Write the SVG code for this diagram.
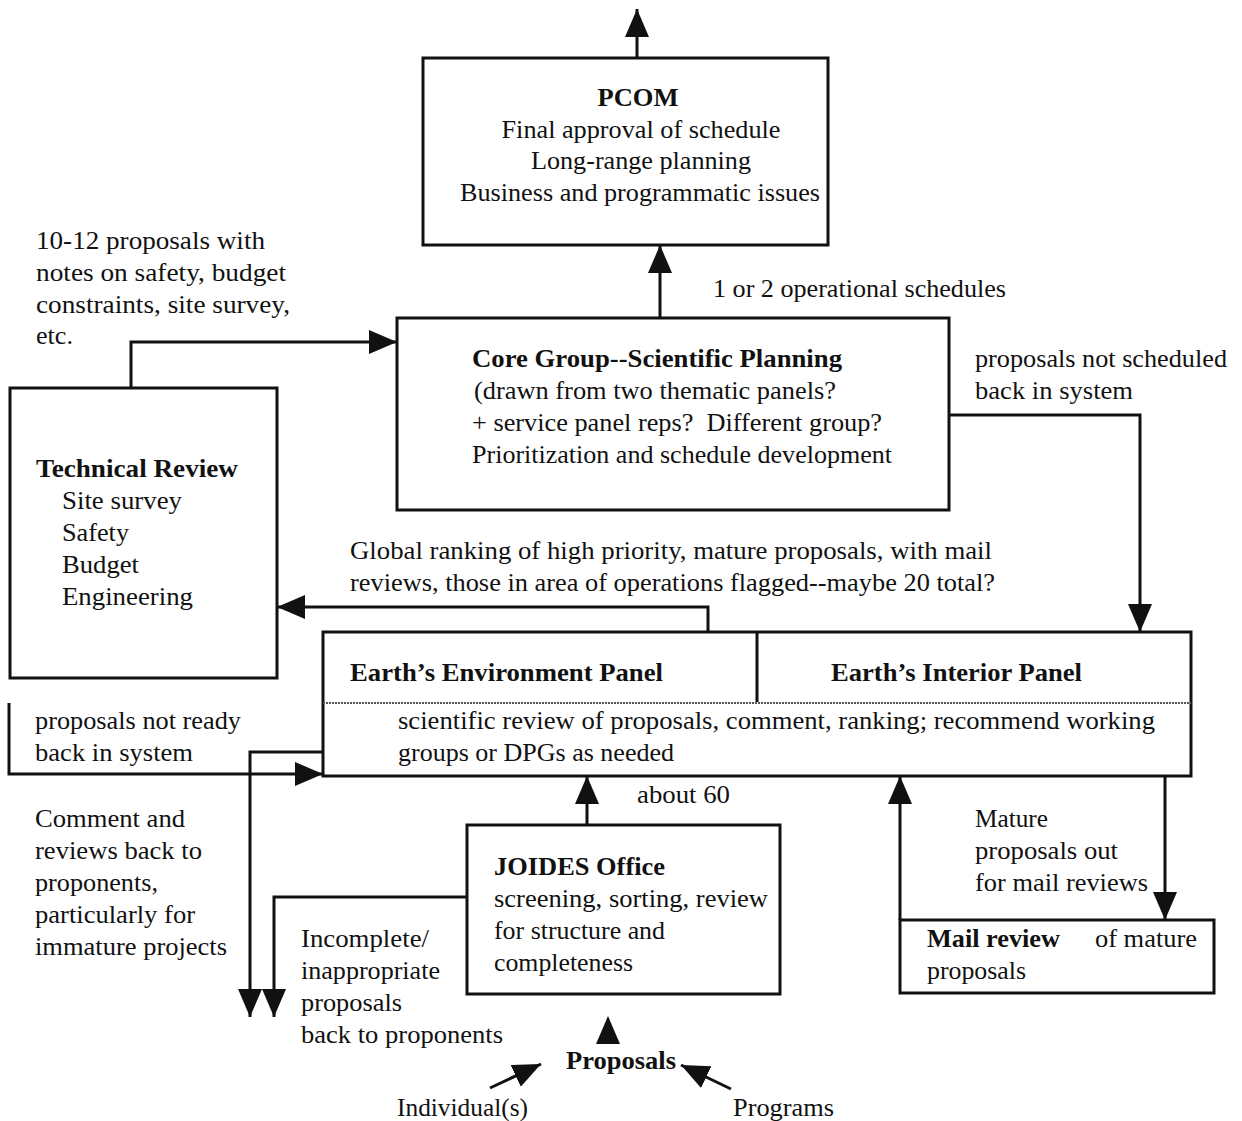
<svg xmlns="http://www.w3.org/2000/svg" width="1242" height="1121" viewBox="0 0 1242 1121">
<style>
text{font-family:"Liberation Serif","Times New Roman",serif;font-size:25px;fill:#111}
.b{font-weight:bold}
.box{fill:none;stroke:#111;stroke-width:3}
.c{fill:none;stroke:#111;stroke-width:3}
</style>
<defs>
<marker id="ah" markerUnits="userSpaceOnUse" markerWidth="28" markerHeight="24" refX="28" refY="12" orient="auto" viewBox="0 0 28 24">
<path d="M0,0 L28,12 L0,24 z" fill="#111"/>
</marker>
</defs>
<rect width="1242" height="1121" fill="#fff"/>

<g id="connectors">
<line class="c" x1="637" y1="58" x2="637" y2="9" marker-end="url(#ah)"/>
<line class="c" x1="660" y1="318" x2="660" y2="245" marker-end="url(#ah)"/>
<polyline class="c" points="131,388 131,342 397,342" marker-end="url(#ah)"/>
<polyline class="c" points="949,415 1140,415 1140,632" marker-end="url(#ah)"/>
<polyline class="c" points="708,632 708,607 277,607" marker-end="url(#ah)"/>
<polyline class="c" points="9,703 9,774 323,774" marker-end="url(#ah)"/>
<polyline class="c" points="323,752 250,752 250,1017" marker-end="url(#ah)"/>
<polyline class="c" points="467,897 274,897 274,1017" marker-end="url(#ah)"/>
<line class="c" x1="587" y1="825" x2="587" y2="776" marker-end="url(#ah)"/>
<line class="c" x1="900" y1="920" x2="900" y2="776" marker-end="url(#ah)"/>
<line class="c" x1="1165" y1="776" x2="1165" y2="920" marker-end="url(#ah)"/>
<polygon points="608,1016 620,1044 596,1044" fill="#111"/>
<line class="c" x1="490" y1="1088" x2="541" y2="1064" marker-end="url(#ah)"/>
<line class="c" x1="731" y1="1089" x2="681" y2="1065" marker-end="url(#ah)"/>
</g>

<g id="pcom">
<rect class="box" x="423" y="58" width="405" height="187"/>
<text class="b" x="638" y="106" text-anchor="middle" textLength="81" lengthAdjust="spacingAndGlyphs">PCOM</text>
<text x="641" y="138" text-anchor="middle" textLength="279" lengthAdjust="spacingAndGlyphs">Final approval of schedule</text>
<text x="641" y="169" text-anchor="middle" textLength="220" lengthAdjust="spacingAndGlyphs">Long-range planning</text>
<text x="640" y="201" text-anchor="middle" textLength="360" lengthAdjust="spacingAndGlyphs">Business and programmatic issues</text>
</g>

<g id="label-schedules">
<text x="713" y="297" textLength="293" lengthAdjust="spacingAndGlyphs">1 or 2 operational schedules</text>
</g>

<g id="label-tenproposals">
<text x="36" y="249" textLength="229" lengthAdjust="spacingAndGlyphs">10-12 proposals with</text>
<text x="36" y="281" textLength="250" lengthAdjust="spacingAndGlyphs">notes on safety, budget</text>
<text x="36" y="313" textLength="254" lengthAdjust="spacingAndGlyphs">constraints, site survey,</text>
<text x="36" y="344" textLength="37" lengthAdjust="spacingAndGlyphs">etc.</text>
</g>

<g id="technical-review">
<rect class="box" x="10" y="388" width="267" height="290"/>
<text class="b" x="36" y="477" textLength="202" lengthAdjust="spacingAndGlyphs">Technical Review</text>
<text x="62" y="509" textLength="120" lengthAdjust="spacingAndGlyphs">Site survey</text>
<text x="62" y="541" textLength="67" lengthAdjust="spacingAndGlyphs">Safety</text>
<text x="62" y="573" textLength="77" lengthAdjust="spacingAndGlyphs">Budget</text>
<text x="62" y="605" textLength="131" lengthAdjust="spacingAndGlyphs">Engineering</text>
</g>

<g id="core-group">
<rect class="box" x="397" y="318" width="552" height="192"/>
<text class="b" x="472" y="367" textLength="370" lengthAdjust="spacingAndGlyphs">Core Group--Scientific Planning</text>
<text x="474" y="399" textLength="362" lengthAdjust="spacingAndGlyphs"> (drawn from two thematic panels?</text>
<text x="472" y="431" textLength="410" lengthAdjust="spacingAndGlyphs" xml:space="preserve">+ service panel reps?  Different group?</text>
<text x="472" y="463" textLength="420" lengthAdjust="spacingAndGlyphs">Prioritization and schedule development</text>
</g>

<g id="label-notscheduled">
<text x="975" y="367" textLength="252" lengthAdjust="spacingAndGlyphs">proposals not scheduled</text>
<text x="975" y="399" textLength="158" lengthAdjust="spacingAndGlyphs">back in system</text>
</g>

<g id="label-global">
<text x="350" y="559" textLength="642" lengthAdjust="spacingAndGlyphs">Global ranking of high priority, mature proposals, with mail</text>
<text x="350" y="591" textLength="645" lengthAdjust="spacingAndGlyphs">reviews, those in area of operations flagged--maybe 20 total?</text>
</g>

<g id="panels">
<rect class="box" x="323" y="632" width="868" height="144"/>
<line x1="757" y1="632" x2="757" y2="702" stroke="#111" stroke-width="3"/>
<line x1="323" y1="703" x2="1191" y2="703" stroke="#555" stroke-width="2" stroke-dasharray="2,1"/>
<text class="b" x="350" y="681" textLength="313" lengthAdjust="spacingAndGlyphs">Earth’s Environment Panel</text>
<text class="b" x="831" y="681" textLength="251" lengthAdjust="spacingAndGlyphs">Earth’s Interior Panel</text>
<text x="398" y="729" textLength="757" lengthAdjust="spacingAndGlyphs">scientific review of proposals, comment, ranking; recommend working</text>
<text x="398" y="761" textLength="276" lengthAdjust="spacingAndGlyphs">groups or DPGs as needed</text>
</g>

<g id="label-notready">
<text x="35" y="729" textLength="206" lengthAdjust="spacingAndGlyphs">proposals not ready</text>
<text x="35" y="761" textLength="158" lengthAdjust="spacingAndGlyphs">back in system</text>
</g>

<g id="label-comment">
<text x="35" y="827" textLength="150" lengthAdjust="spacingAndGlyphs">Comment and</text>
<text x="35" y="859" textLength="167" lengthAdjust="spacingAndGlyphs">reviews back to</text>
<text x="35" y="891" textLength="123" lengthAdjust="spacingAndGlyphs">proponents,</text>
<text x="35" y="923" textLength="160" lengthAdjust="spacingAndGlyphs">particularly for</text>
<text x="35" y="955" textLength="192" lengthAdjust="spacingAndGlyphs">immature projects</text>
</g>

<g id="label-about60">
<text x="637" y="803" textLength="93" lengthAdjust="spacingAndGlyphs">about 60</text>
</g>

<g id="joides-office">
<rect class="box" x="467" y="825" width="313" height="169"/>
<text class="b" x="494" y="875" textLength="171" lengthAdjust="spacingAndGlyphs">JOIDES Office</text>
<text x="494" y="907" textLength="274" lengthAdjust="spacingAndGlyphs">screening, sorting, review</text>
<text x="494" y="939" textLength="171" lengthAdjust="spacingAndGlyphs">for structure and</text>
<text x="494" y="971" textLength="139" lengthAdjust="spacingAndGlyphs">completeness</text>
</g>

<g id="label-incomplete">
<text x="301" y="947" textLength="128" lengthAdjust="spacingAndGlyphs">Incomplete/</text>
<text x="301" y="979" textLength="139" lengthAdjust="spacingAndGlyphs">inappropriate</text>
<text x="301" y="1011" textLength="101" lengthAdjust="spacingAndGlyphs">proposals</text>
<text x="301" y="1043" textLength="202" lengthAdjust="spacingAndGlyphs">back to proponents</text>
</g>

<g id="label-mature">
<text x="975" y="827" textLength="73" lengthAdjust="spacingAndGlyphs">Mature</text>
<text x="975" y="859" textLength="143" lengthAdjust="spacingAndGlyphs">proposals out</text>
<text x="975" y="891" textLength="173" lengthAdjust="spacingAndGlyphs">for mail reviews</text>
</g>

<g id="mail-review">
<rect class="box" x="900" y="920" width="314" height="73"/>
<text class="b" x="927" y="947" textLength="133" lengthAdjust="spacingAndGlyphs">Mail review</text>
<text x="1095" y="947" textLength="102" lengthAdjust="spacingAndGlyphs">of mature</text>
<text x="927" y="979" textLength="99" lengthAdjust="spacingAndGlyphs">proposals</text>
</g>

<g id="proposals">
<text class="b" x="566" y="1069" textLength="110" lengthAdjust="spacingAndGlyphs">Proposals</text>
</g>
<g id="individuals">
<text x="397" y="1116" textLength="131" lengthAdjust="spacingAndGlyphs">Individual(s)</text>
</g>
<g id="programs">
<text x="733" y="1116" textLength="101" lengthAdjust="spacingAndGlyphs">Programs</text>
</g>
</svg>
